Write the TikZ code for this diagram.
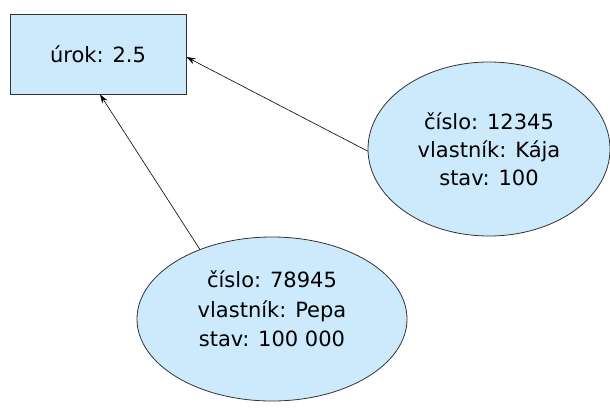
\documentclass[tikz,border=0pt]{standalone}
\usepackage{fontspec}
\setmainfont{DejaVu Sans}
\usetikzlibrary{arrows.meta,shapes.geometric}
\definecolor{objfill}{RGB}{204,234,252}
\tikzset{
  obj/.style={draw=black!80, fill=objfill, line width=0.8pt, align=center,
    font=\fontsize{21}{28}\selectfont, inner sep=0pt},
  objtext/.style={align=center, font=\fontsize{21}{29.5}\selectfont, inner sep=0pt},
  link/.style={draw=black, line width=0.6pt, -{Stealth[length=9pt,width=6pt]}}
}
\begin{document}
\begin{tikzpicture}[x=1pt,y=-1pt]
  \useasboundingbox (0,0) rectangle (610,407);
  \fill[white] (0,0) rectangle (610,407);
  % class box holding the interest rate
  \node[obj, rectangle, minimum width=176pt, minimum height=80pt] (rate) at (98,54) {úrok: 2.5};
  % two account objects
  \node[obj, ellipse, minimum width=242pt, minimum height=174pt] (acc1) at (489,149)
    {číslo: 12345\\vlastník: Kája\\stav: 100};
  \node[obj, ellipse, minimum width=270pt, minimum height=164pt] (acc2) at (272,319) {};
  \node[objtext] (acc2txt) at (272,309) {číslo: 78945\\vlastník: Pepa\\stav: 100 000};
  % references to the shared class attribute
  \draw[link] (acc1.181) -- ([yshift=-3pt]rate.east);
  \draw[link] (acc2.136) -- ([xshift=2pt]rate.south);
\end{tikzpicture}
\end{document}
